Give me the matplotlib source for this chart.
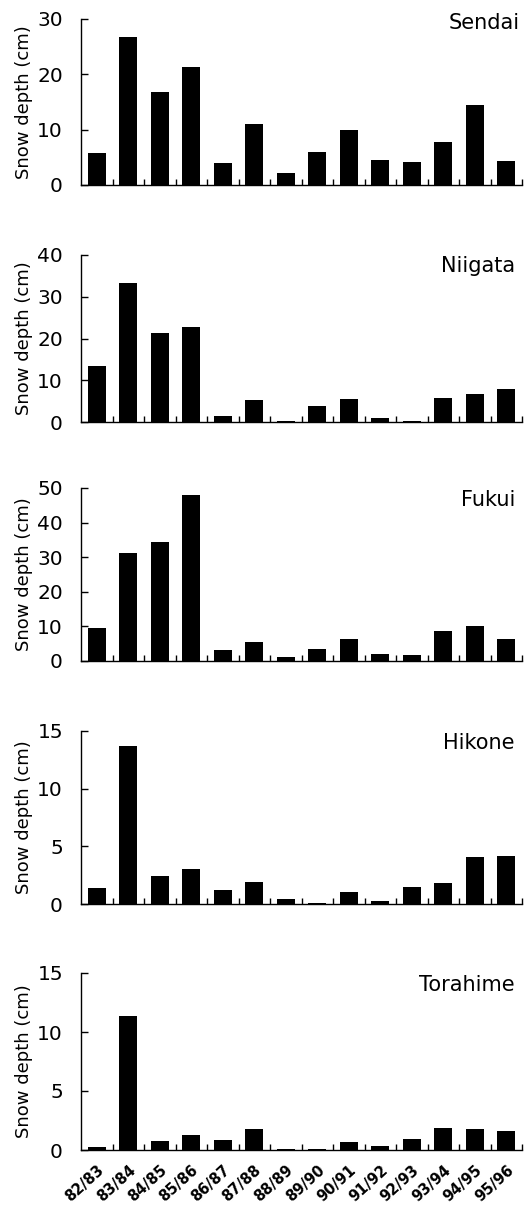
import matplotlib
matplotlib.use("Agg")
import matplotlib.pyplot as plt
import numpy as np

seasons = ["82/83", "83/84", "84/85", "85/86", "86/87", "87/88", "88/89",
           "89/90", "90/91", "91/92", "92/93", "93/94", "94/95", "95/96"]

sendai = [5.7, 26.8, 16.8, 21.3, 4.0, 11.1, 2.1, 6.0, 9.9, 4.5, 4.2, 7.8, 14.5, 4.3]
niigata = [13.3, 33.2, 21.2, 22.8, 1.4, 5.2, 0.3, 3.8, 5.6, 1.0, 0.2, 5.8, 6.8, 7.9]
fukui = [9.5, 31.1, 34.4, 48.0, 3.2, 5.4, 1.3, 3.5, 6.3, 2.1, 1.7, 8.8, 10.1, 6.4]
hikone = [1.4, 13.7, 2.4, 3.0, 1.2, 1.9, 0.4, 0.05, 1.0, 0.3, 1.5, 1.8, 4.1, 4.2]
torahime = [0.25, 11.35, 0.8, 1.3, 0.85, 1.8, 0.1, 0.05, 0.65, 0.3, 0.9, 1.9, 1.8, 1.65]

stations = ["Sendai", "Niigata", "Fukui", "Hikone", "Torahime"]
series = [sendai, niigata, fukui, hikone, torahime]
ymax = [30, 40, 50, 15, 15]
ystep = [10, 10, 10, 5, 5]

W, H = 524, 1206
fig = plt.figure(figsize=(W / 100, H / 100), dpi=100)
plt.rcParams['font.family'] = ['DejaVu Sans']

# pixel positions (top, bottom) of each panel
panels_px = [(19, 185), (255, 422), (488, 661), (731, 904), (973, 1150)]
title_pos = [(0.995, 1.035), (0.984, 0.995), (0.984, 0.99), (0.984, 0.99), (0.984, 0.99)]
left_px, right_px = 81, 522

x = np.arange(len(seasons))
for i, (name, vals, top, step) in enumerate(zip(stations, series, ymax, ystep)):
    t, b = panels_px[i]
    ax = fig.add_axes([left_px / W, (H - b) / H, (right_px - left_px) / W, (b - t) / H])
    ax.bar(x, vals, width=0.58, color="black")
    ax.set_xlim(-0.5, len(seasons) - 0.5)
    ax.set_ylim(0, top)
    ax.set_yticks(np.arange(0, top + 0.1, step))
    ax.tick_params(axis='y', direction='in', length=5, width=1, labelsize=14.5, pad=13)
    ax.set_xticks(x + 0.5, minor=True)
    ax.set_xticks(x)
    ax.tick_params(axis='x', which='major', length=0, pad=9)
    ax.tick_params(axis='x', which='minor', direction='in', length=4, width=1)
    if i == len(stations) - 1:
        ax.set_xticklabels(seasons, rotation=42, ha='right', rotation_mode='anchor',
                           fontsize=10.5, fontweight='bold')
    else:
        ax.set_xticklabels([])
    for s in ['top', 'right']:
        ax.spines[s].set_visible(False)
    ax.spines['left'].set_linewidth(1)
    ax.spines['bottom'].set_linewidth(1)
    ax.set_ylabel("Snow depth (cm)", fontsize=13, labelpad=3)
    tx, ty = title_pos[i]
    ax.text(tx, ty, name, transform=ax.transAxes, ha='right', va='top', fontsize=15)

fig.savefig("out.png", dpi=100)
